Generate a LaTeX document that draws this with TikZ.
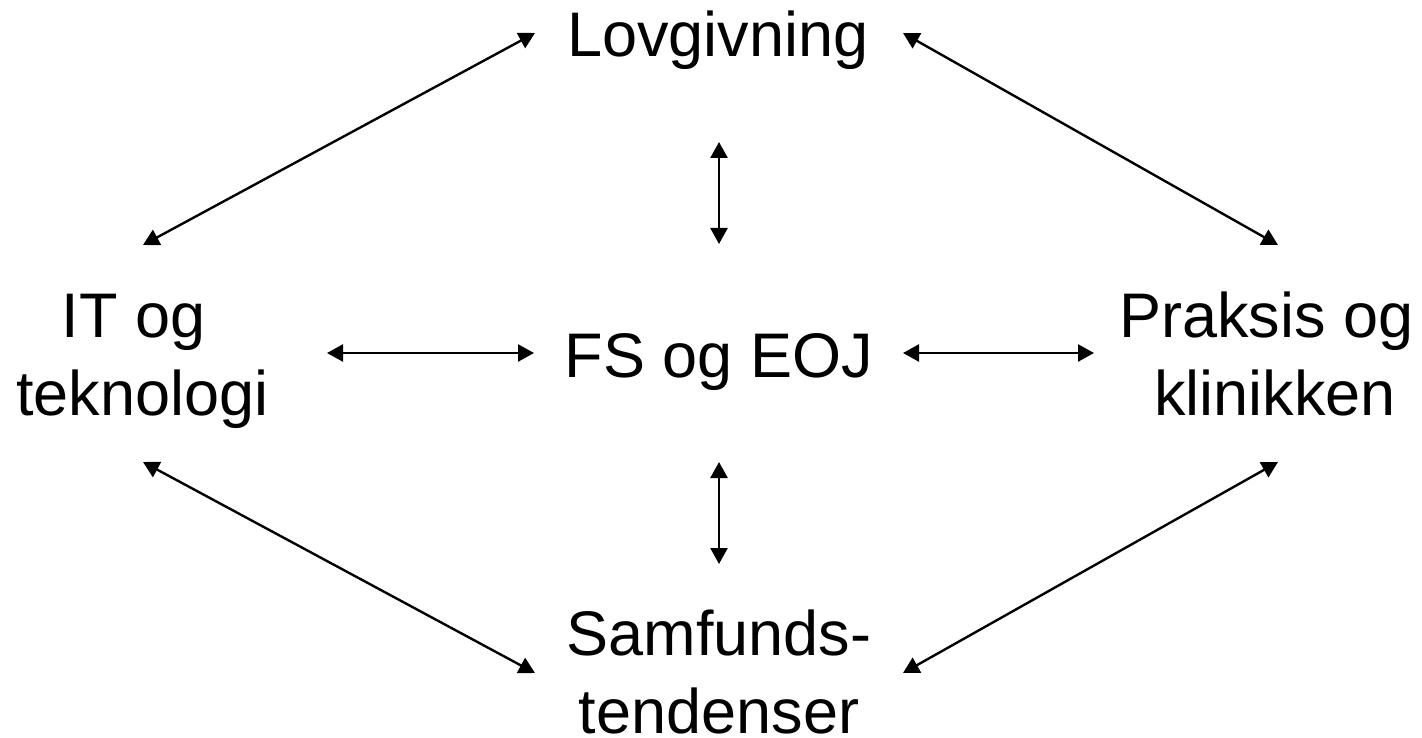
\documentclass[tikz,border=0pt]{standalone}
\usepackage{fontspec}
\setmainfont{Liberation Sans}
\usetikzlibrary{arrows.meta}
\begin{document}
\begin{tikzpicture}[x=1pt,y=-1pt,
  lbl/.style={font=\fontsize{63}{78}\selectfont, inner sep=0pt, anchor=base, align=center},
  link/.style={line width=2.4pt, {Triangle[length=16pt,width=17pt]}-{Triangle[length=16pt,width=17pt]}}]
\useasboundingbox (0,0) rectangle (1422,738);
% labels (base anchor = baseline of the last line)
\node[lbl] (lov) at (718,57) {Lovgivning};
\node[lbl] (fs)  at (719,377) {FS og EOJ};
\node[lbl] (it)  at (142.5,415) {IT og\rule{0.278em}{0pt}\\teknologi};
\node[lbl] (pk)  at (1275,415) {Praksis og\rule{0.278em}{0pt}\\klinikken};
\node[lbl] (sam) at (719,733) {Samfunds-\\tendenser};
% connector ends
\coordinate (lovS) at (719,142);
\coordinate (fsN)  at (719,244);
\coordinate (fsS)  at (719,462);
\coordinate (samN) at (719,564);
\coordinate (itE)  at (327,353);
\coordinate (fsW)  at (534,353);
\coordinate (fsE)  at (903,353);
\coordinate (pkW)  at (1094,353);
\coordinate (itNE) at (143,245);
\coordinate (lovW) at (535,33);
\coordinate (lovE) at (903,33);
\coordinate (pkNW) at (1278,245);
\coordinate (itSE) at (143,462);
\coordinate (samW) at (535,673);
\coordinate (pkSW) at (1278,462);
\coordinate (samE) at (903,673);
% connectors
\draw[link] (lovS) -- (fsN);
\draw[link] (fsS) -- (samN);
\draw[link] (itE) -- (fsW);
\draw[link] (fsE) -- (pkW);
\draw[link] (itNE) -- (lovW);
\draw[link] (lovE) -- (pkNW);
\draw[link] (itSE) -- (samW);
\draw[link] (pkSW) -- (samE);
\end{tikzpicture}
\end{document}
